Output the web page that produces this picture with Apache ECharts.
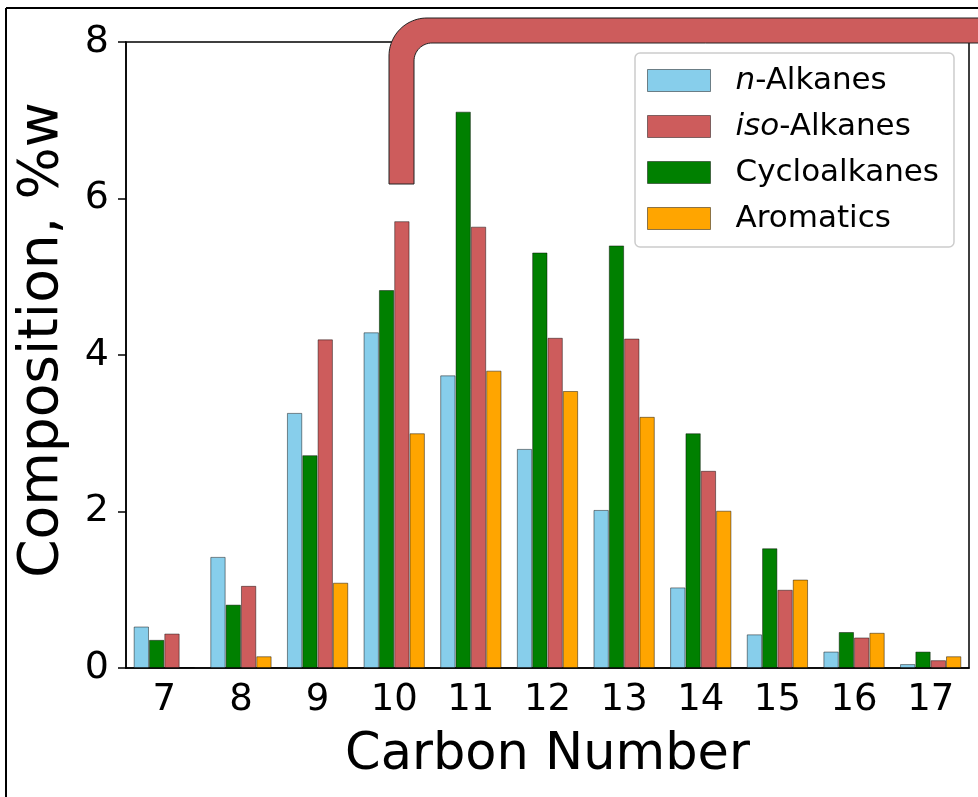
<!DOCTYPE html>
<html>
<head>
<meta charset="utf-8">
<script src="https://cdn.jsdelivr.net/npm/echarts@6/dist/echarts.min.js"></script>
<style>
  html, body { margin: 0; padding: 0; background: #fff; }
  #chart { width: 978px; height: 797px; }
</style>
</head>
<body>
<div id="chart"></div>
<script>
// ---- data ----
const categories = ['7', '8', '9', '10', '11', '12', '13', '14', '15', '16', '17'];
const nAlkanes     = [0.53, 1.42, 3.26, 4.29, 3.74, 2.80, 2.02, 1.03, 0.43, 0.21, 0.05];
const cycloalkanes = [0.36, 0.81, 2.72, 4.83, 7.11, 5.31, 5.40, 3.00, 1.53, 0.46, 0.21];
const isoAlkanes   = [0.44, 1.05, 4.20, 5.71, 5.64, 4.22, 4.21, 2.52, 1.00, 0.39, 0.10];
const aromatics    = [0.01, 0.15, 1.09, 3.00, 3.80, 3.54, 3.21, 2.01, 1.13, 0.45, 0.15];
const yTicks = [0, 2, 4, 6, 8];

const FONT = 'DejaVu Sans';
const edge = 'rgba(0,0,0,0.45)';

function barSeries(name, data, color) {
  return {
    name: name,
    type: 'bar',
    data: data,
    barWidth: '20%',
    barGap: '0%',
    itemStyle: { color: color, borderColor: edge, borderWidth: 1 },
    emphasis: { disabled: true }
  };
}

// decorative rounded bracket (overlay, not data)
function arcPts(cx, cy, r, a0, a1, n) {
  const pts = [];
  for (let i = 0; i <= n; i++) {
    const a = (a0 + (a1 - a0) * i / n) * Math.PI / 180;
    pts.push([cx + r * Math.cos(a), cy + r * Math.sin(a)]);
  }
  return pts;
}
const bracket = [[389, 184]]
  .concat(arcPts(427, 56, 38, 180, 270, 24))
  .concat([[982, 18], [982, 43]])
  .concat(arcPts(432, 61, 18, 270, 180, 16))
  .concat([[414, 184]]);

const chart = echarts.init(document.getElementById('chart'), null, { renderer: 'canvas' });
chart.setOption({
  animation: false,
  backgroundColor: '#ffffff',
  grid: {
    left: 126, top: 42, right: 9, bottom: 129,
    show: true, borderColor: '#000', borderWidth: 1.5, backgroundColor: 'transparent'
  },
  legend: {
    data: ['n-Alkanes', 'iso-Alkanes', 'Cycloalkanes', 'Aromatics'],
    orient: 'vertical',
    left: 635, top: 53,
    padding: [12, 15, 13, 12],
    itemWidth: 63, itemHeight: 22, itemGap: 15,
    backgroundColor: 'rgba(255,255,255,0.8)',
    borderColor: '#cccccc', borderWidth: 1.5, borderRadius: 5,
    icon: 'rect',
    itemStyle: { borderColor: edge, borderWidth: 1 },
    selectedMode: false,
    formatter: function (name) {
      if (name === 'n-Alkanes') return '{i|n}-Alkanes';
      if (name === 'iso-Alkanes') return '{i|iso}-Alkanes';
      return name;
    },
    textStyle: {
      fontFamily: FONT, fontSize: 31, color: '#000', padding: [0, 0, 0, 20],
      rich: { i: { fontFamily: FONT, fontSize: 31, fontStyle: 'italic', color: '#000' } }
    }
  },
  xAxis: {
    type: 'category',
    data: categories,
    name: 'Carbon Number',
    nameLocation: 'middle',
    nameGap: 62,
    nameTextStyle: { fontFamily: FONT, fontSize: 51, color: '#000' },
    axisLine: { lineStyle: { color: '#000', width: 1.5 } },
    axisTick: { alignWithLabel: true, length: 8, lineStyle: { color: '#000', width: 1.5 } },
    axisLabel: { fontFamily: FONT, fontSize: 37, color: '#000', margin: 14, interval: 0 },
    splitLine: { show: false }
  },
  yAxis: {
    type: 'value',
    min: yTicks[0], max: yTicks[yTicks.length - 1], interval: 2,
    name: 'Composition, %w',
    nameLocation: 'middle',
    nameGap: 56,
    nameTextStyle: { fontFamily: FONT, fontSize: 55, color: '#000', padding: [0, 0, 0, 30] },
    axisLine: { show: true, lineStyle: { color: '#000', width: 1.5 } },
    axisTick: { show: true, length: 8, lineStyle: { color: '#000', width: 1.5 } },
    axisLabel: { fontFamily: FONT, fontSize: 38, color: '#000', margin: 17 },
    splitLine: { show: false }
  },
  series: [
    barSeries('n-Alkanes', nAlkanes, '#87CEEB'),
    barSeries('Cycloalkanes', cycloalkanes, '#008000'),
    barSeries('iso-Alkanes', isoAlkanes, '#CD5C5C'),
    barSeries('Aromatics', aromatics, '#FFA500')
  ],
  graphic: [
    { type: 'line', z: 100, shape: { x1: 6, y1: 8, x2: 980, y2: 8 }, style: { stroke: '#000', lineWidth: 2 } },
    { type: 'line', z: 100, shape: { x1: 6, y1: 8, x2: 6, y2: 800 }, style: { stroke: '#000', lineWidth: 2 } },
    { type: 'polygon', z: 100, shape: { points: bracket }, style: { fill: '#CD5C5C', stroke: '#222', lineWidth: 1 } }
  ]
});
</script>
</body>
</html>
